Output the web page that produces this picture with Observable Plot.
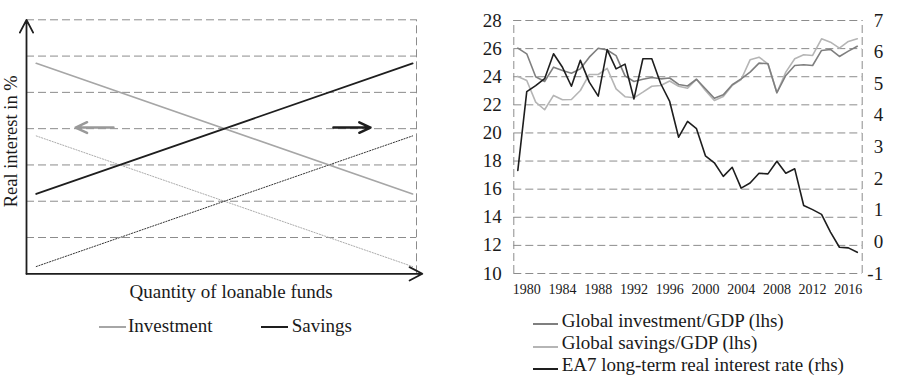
<!DOCTYPE html>
<html><head><meta charset="utf-8">
<script src="https://cdn.jsdelivr.net/npm/d3@7"></script>
<script src="https://cdn.jsdelivr.net/npm/@observablehq/plot@0.6"></script>
<style>
html,body{margin:0;padding:0;background:#fff;}
#root{position:relative;width:900px;height:383px;overflow:hidden;font-family:"Liberation Serif","Times New Roman",serif;color:#1a1a1a;}
.panel{position:absolute;top:0;}
.panel svg text{font-family:"Liberation Serif","Times New Roman",serif;}
.leg{position:absolute;font-size:19px;line-height:19px;white-space:nowrap;color:#1a1a1a;}
.sw{position:absolute;height:0;border-top:2px solid;}
</style></head><body><div id="root">
<div class="panel" id="left" style="left:0"></div>
<div class="panel" id="right" style="left:450px"></div>
</div>
<script>
// ---------- Left panel: schematic loanable funds ----------
const schemeQuantity = [0.25, 9.9];
const investmentCurve = [5.8, 2.2];
const savingsCurve = [2.2, 5.8];
const investmentShifted = [3.8, 0.2];
const savingsShifted = [0.2, 3.8];
const schemeGrid = [1, 2, 3, 4, 5, 6, 7];
const investmentShift = [2.23, 1.26];
const savingsShift = [7.87, 8.82];
const shiftLevel = 4.03;

// ---------- Right panel: time series ----------
const years = [1979,1980,1981,1982,1983,1984,1985,1986,1987,1988,1989,1990,1991,1992,1993,1994,1995,1996,1997,1998,1999,2000,2001,2002,2003,2004,2005,2006,2007,2008,2009,2010,2011,2012,2013,2014,2015,2016,2017];
const investmentGDP = [26.03,25.63,24.0,23.66,24.68,24.44,24.25,24.56,25.39,26.03,25.9,25.5,24.06,23.66,23.82,23.95,23.85,23.91,23.45,23.34,23.82,23.14,22.47,22.71,23.43,23.85,24.33,24.97,24.92,22.86,24.09,24.8,24.85,24.8,25.87,25.94,25.44,25.82,26.17];
const savingsGDP = [24.02,23.73,22.19,21.65,22.67,22.36,22.38,23.02,24.16,24.16,24.6,23.14,22.58,22.5,22.9,23.32,23.38,23.7,23.32,23.18,23.82,23.02,22.31,22.59,23.38,23.8,25.2,25.39,24.92,22.86,24.33,25.28,25.56,25.51,26.7,26.46,26.03,26.51,26.7];
const realRate = [2.26,4.75,4.94,5.16,5.95,5.52,4.92,5.74,5.05,4.61,6.08,5.47,5.62,4.52,5.79,5.79,5.0,4.44,3.31,3.81,3.58,2.72,2.5,2.07,2.36,1.70,1.86,2.17,2.15,2.55,2.17,2.31,1.15,1.02,0.87,0.31,-0.17,-0.19,-0.33];
const yearTicks = [1980,1984,1988,1992,1996,2000,2004,2008,2012,2016];
const lhsTicks = [10,12,14,16,18,20,22,24,26,28];
const rhsTicks = [-1,0,1,2,3,4,5,6,7];
const yearDomain = [1978.55, 2017.55];

const FONT = '"Liberation Serif","Times New Roman",serif';
const GRID = {stroke: "#8c8c8c", strokeWidth: 1, strokeDasharray: "8,4"};

const pts = (xs, ys) => xs.map((x, i) => ({x, y: ys[i]}));

const leftChart = Plot.plot({
  width: 450, height: 300,
  marginLeft: 26, marginRight: 34, marginTop: 19.3, marginBottom: 26.7,
  x: {domain: [0, 10], axis: null},
  y: {domain: [0, 7], axis: null},
  style: {background: "transparent", fontFamily: FONT, color: "#1a1a1a", overflow: "visible"},
  marks: [
    Plot.ruleY(schemeGrid, GRID),
    Plot.ruleX([10], {y1: 0, y2: 7, ...GRID}),
    Plot.line(pts(schemeQuantity, investmentShifted), {x: "x", y: "y", stroke: "#ababab", strokeWidth: 1, strokeDasharray: "1.2,1.6"}),
    Plot.line(pts(schemeQuantity, savingsShifted), {x: "x", y: "y", stroke: "#333", strokeWidth: 1, strokeDasharray: "1.2,1.6"}),
    Plot.line(pts(schemeQuantity, investmentCurve), {x: "x", y: "y", stroke: "#a6a6a6", strokeWidth: 1.6}),
    Plot.line(pts(schemeQuantity, savingsCurve), {x: "x", y: "y", stroke: "#1e1e1e", strokeWidth: 1.8}),
    Plot.arrow([0], {x1: investmentShift[0], x2: investmentShift[1], y1: shiftLevel, y2: shiftLevel, stroke: "#999", strokeWidth: 2.5, headLength: 8, headAngle: 50}),
    Plot.arrow([0], {x1: savingsShift[0], x2: savingsShift[1], y1: shiftLevel, y2: shiftLevel, stroke: "#1e1e1e", strokeWidth: 2.5, headLength: 8, headAngle: 50}),
    Plot.arrow([0], {x1: 0, x2: 0, y1: 0, y2: 7, stroke: "#1e1e1e", strokeWidth: 1.8, headLength: 12, headAngle: 55}),
    Plot.arrow([0], {x1: 0, x2: 10.15, y1: 0, y2: 0, stroke: "#1e1e1e", strokeWidth: 1.8, headLength: 12, headAngle: 55}),
    Plot.text(["Quantity of loanable funds"], {frameAnchor: "bottom", textAnchor: "middle", lineAnchor: "middle", dx: 9.7, dy: 18, fontSize: 19, fontFamily: FONT, fill: "#1a1a1a"}),
    Plot.text(["Real interest in %"], {frameAnchor: "left", textAnchor: "middle", lineAnchor: "middle", rotate: -90, dx: -15, dy: -5.5, fontSize: 18.5, fontFamily: FONT, fill: "#1a1a1a"})
  ]
});
document.getElementById("left").appendChild(leftChart);

const toLhs = r => 10 + (r + 1) * 18 / 8;
const rows = years.map((year, i) => ({year, investment: investmentGDP[i], savings: savingsGDP[i], rate: realRate[i]}));

const rightChart = Plot.plot({
  width: 450, height: 300,
  marginLeft: 63.3, marginRight: 38.3, marginTop: 20, marginBottom: 27,
  x: {domain: yearDomain},
  y: {domain: [10, 28]},
  style: {background: "transparent", fontFamily: FONT, color: "#1a1a1a", overflow: "visible"},
  marks: [
    Plot.ruleY(lhsTicks, GRID),
    Plot.ruleX(yearDomain, {y1: 10, y2: 28, ...GRID}),
    Plot.line(rows, {x: "year", y: "savings", stroke: "#b5b5b5", strokeWidth: 1.6}),
    Plot.line(rows, {x: "year", y: "investment", stroke: "#7f7f7f", strokeWidth: 1.6}),
    Plot.line(rows, {x: "year", y: d => toLhs(d.rate), stroke: "#1e1e1e", strokeWidth: 1.6}),
    Plot.axisX(yearTicks, {tickSize: 0, tickPadding: 11, fontSize: 14, fontFamily: FONT, tickFormat: d => String(d), label: null}),
    Plot.axisY(lhsTicks, {tickSize: 0, tickPadding: 12, fontSize: 19, fontFamily: FONT, tickFormat: d => String(d), label: null}),
    Plot.text(rhsTicks, {y: d => toLhs(d), text: d => String(d), frameAnchor: "right", dx: 21, textAnchor: "end", lineAnchor: "middle", fontSize: 19, fontFamily: FONT, fill: "#1a1a1a"})
  ]
});
document.getElementById("right").appendChild(rightChart);

// ---------- Legends ----------
const root = document.getElementById("root");
function legend(items) {
  for (const it of items) {
    const sw = document.createElement("div");
    sw.className = "sw";
    sw.style.left = it.sx + "px"; sw.style.width = it.sw + "px";
    sw.style.top = (it.sy - 1) + "px"; sw.style.borderTopColor = it.color;
    root.appendChild(sw);
    const t = document.createElement("div");
    t.className = "leg";
    t.style.left = it.tx + "px"; t.style.top = (it.base - 15.9) + "px";
    t.textContent = it.label;
    root.appendChild(t);
  }
}
legend([
  {label: "Investment", color: "#a6a6a6", sx: 99, sw: 27, sy: 327.3, tx: 128, base: 331.7},
  {label: "Savings", color: "#1e1e1e", sx: 261, sw: 27, sy: 327.3, tx: 291.7, base: 331.7},
  {label: "Global investment/GDP (lhs)", color: "#7f7f7f", sx: 532.7, sw: 25.6, sy: 323.5, tx: 561.7, base: 327},
  {label: "Global savings/GDP (lhs)", color: "#b5b5b5", sx: 532.7, sw: 25.6, sy: 346.5, tx: 561.7, base: 349},
  {label: "EA7 long-term real interest rate (rhs)", color: "#1e1e1e", sx: 532.7, sw: 25.6, sy: 368.5, tx: 561.7, base: 371}
]);
</script></body></html>
